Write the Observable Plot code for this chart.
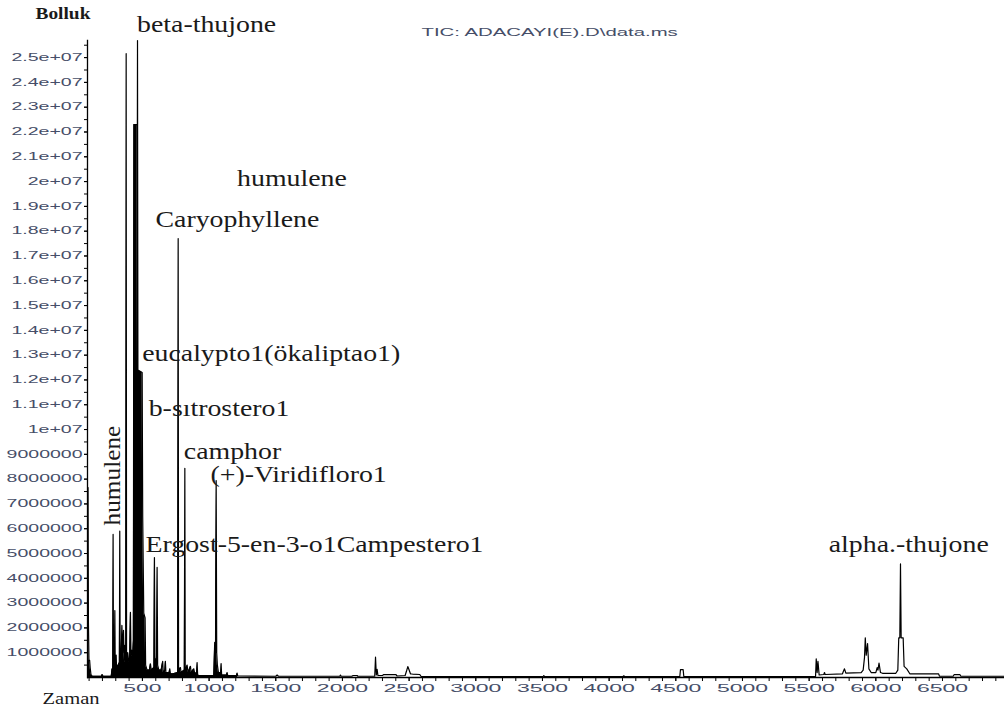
<!DOCTYPE html>
<html>
<head>
<meta charset="utf-8">
<script src="https://cdn.jsdelivr.net/npm/d3@7"></script>
<script src="https://cdn.jsdelivr.net/npm/@observablehq/plot@0.6"></script>
<style>
  html, body { margin: 0; padding: 0; background: #fff; }
  #chart svg { display: block; }
</style>
</head>
<body>
<div id="chart"></div>
<script>
// TIC trace: [scan time, abundance]
const chromatogram = [
  [88, 7.66e6], [92, 7.66e6], [95, 2.2e6], [99, 0.7e6], [104, 0.69e6], [108, 0.4e6],
  [114, 0.12e6], [124, 0.05e6], [192, 0.05e6], [198, 0.12e6], [204, 0.05e6],
  [266, 0.05e6], [272, 0.35e6], [277, 0.3e6], [280, 5.77e6], [283, 0.6e6],
  [290, 0.5e6], [293, 2.7e6], [296, 0.5e6], [303, 0.9e6], [306, 0.4e6],
  [318, 0.5e6], [327, 0.6e6], [330, 5.9e6], [333, 0.7e6], [340, 0.8e6],
  [346, 2.1e6], [352, 1.0e6], [358, 1.9e6], [363, 0.7e6], [368, 1.3e6],
  [372, 0.6e6], [375, 0.7e6], [378, 25.16e6], [381, 0.7e6], [390, 1.0e6],
  [398, 0.6e6], [404, 0.8e6], [410, 2.63e6], [414, 0.9e6], [420, 1.1e6],
  [426, 0.8e6], [432, 1.5e6], [436, 22.3e6], [458, 22.3e6], [461, 12.4e6],
  [463, 25.69e6], [466, 12.4e6], [498, 12.3e6], [502, 6.5e6], [510, 2.6e6],
  [520, 2.4e6], [524, 0.5e6], [535, 0.3e6], [552, 0.3e6], [560, 0.55e6],
  [566, 0.3e6], [586, 0.4e6], [590, 4.84e6], [594, 0.6e6], [606, 0.8e6],
  [610, 4.44e6], [614, 0.5e6], [623, 0.3e6], [640, 0.3e6], [652, 0.65e6],
  [656, 0.2e6], [668, 0.3e6], [672, 0.65e6], [676, 0.2e6], [700, 0.2e6],
  [705, 0.35e6], [710, 0.15e6], [730, 0.15e6], [764, 0.2e6], [768, 17.7e6],
  [771, 0.3e6], [785, 0.4e6], [790, 0.2e6], [814, 0.3e6], [818, 8.44e6],
  [821, 0.3e6], [835, 0.5e6], [842, 0.2e6], [860, 0.45e6], [866, 0.2e6],
  [885, 0.35e6], [893, 0.15e6], [906, 0.2e6], [910, 0.6e6], [914, 0.1e6],
  [925, 0.08e6], [1035, 0.08e6], [1042, 1.42e6], [1048, 1.0e6], [1053, 7.94e6],
  [1057, 1.0e6], [1062, 0.5e6], [1070, 0.2e6], [1087, 0.2e6], [1090, 0.56e6],
  [1094, 0.1e6], [1130, 0.1e6], [1135, 0.2e6], [1140, 0.08e6], [1205, 0.08e6],
  [1210, 0.18e6], [1215, 0.06e6], [1500, 0.05e6], [1510, 0.1e6], [1520, 0.05e6],
  [1980, 0.05e6], [1985, 0.1e6], [1990, 0.05e6], [2070, 0.05e6], [2080, 0.08e6],
  [2110, 0.08e6], [2115, 0.05e6], [2242, 0.05e6], [2248, 0.82e6], [2254, 0.1e6],
  [2260, 0.33e6], [2266, 0.08e6], [2300, 0.08e6], [2310, 0.12e6], [2400, 0.12e6],
  [2410, 0.06e6], [2470, 0.08e6], [2480, 0.25e6], [2490, 0.44e6], [2500, 0.3e6],
  [2510, 0.15e6], [2525, 0.14e6], [2580, 0.12e6], [2590, 0.04e6], [3505, 0.04e6],
  [3510, 0.08e6], [3515, 0.04e6], [4105, 0.04e6], [4110, 0.07e6], [4115, 0.04e6],
  [4530, 0.04e6], [4535, 0.32e6], [4555, 0.32e6], [4560, 0.04e6], [5548, 0.04e6],
  [5553, 0.75e6], [5560, 0.2e6], [5566, 0.65e6], [5575, 0.1e6], [5610, 0.12e6],
  [5615, 0.2e6], [5620, 0.12e6], [5750, 0.15e6], [5757, 0.25e6], [5765, 0.35e6],
  [5775, 0.18e6], [5890, 0.2e6], [5905, 0.3e6], [5915, 0.8e6], [5921, 1.6e6],
  [5928, 0.9e6], [5938, 1.37e6], [5948, 0.35e6], [5965, 0.2e6], [6000, 0.2e6],
  [6010, 0.4e6], [6016, 0.3e6], [6024, 0.58e6], [6035, 0.2e6], [6050, 0.17e6],
  [6150, 0.17e6], [6165, 0.3e6], [6172, 1.6e6], [6180, 1.6e6], [6185, 4.58e6],
  [6190, 1.6e6], [6205, 1.6e6], [6212, 0.45e6], [6232, 0.35e6], [6255, 0.15e6],
  [6470, 0.15e6], [6478, 0.05e6], [6580, 0.05e6], [6588, 0.12e6], [6630, 0.12e6],
  [6638, 0.05e6], [6965, 0.05e6]
];

// Compound annotations: name, scan time and abundance where the label sits
const peakNames = [
  "beta-thujone", "humulene", "Caryophyllene", "eucalypto1(ökaliptao1)",
  "b-sıtrostero1", "camphor", "(+)-Viridifloro1", "Ergost-5-en-3-o1Campestero1",
  "alpha.-thujone"
];
const peakLabelTime = [460, 1210, 598, 498, 547, 810, 1010, 523, 5647];
const peakLabelLevel = [26.02e6, 19.84e6, 18.16e6, 12.78e6, 10.56e6, 8.82e6, 7.88e6, 5.05e6, 5.05e6];
// the vertical label beside the early peaks
const sideLabel = {name: "humulene", t: 335, a: 6.13e6};

// Axis ticks
const yTickValues = [1e6, 2e6, 3e6, 4e6, 5e6, 6e6, 7e6, 8e6, 9e6, 1e7, 1.1e7, 1.2e7, 1.3e7,
  1.4e7, 1.5e7, 1.6e7, 1.7e7, 1.8e7, 1.9e7, 2e7, 2.1e7, 2.2e7, 2.3e7, 2.4e7, 2.5e7];
const yTickLabels = ["1000000", "2000000", "3000000", "4000000", "5000000", "6000000",
  "7000000", "8000000", "9000000", "1e+07", "1.1e+07", "1.2e+07", "1.3e+07", "1.4e+07",
  "1.5e+07", "1.6e+07", "1.7e+07", "1.8e+07", "1.9e+07", "2e+07", "2.1e+07", "2.2e+07",
  "2.3e+07", "2.4e+07", "2.5e+07"];
const xTickValues = [500, 1000, 1500, 2000, 2500, 3000, 3500, 4000, 4500, 5000, 5500, 6000, 6500];
const xMinorTicks = d3.range(100, 7000, 100);
const yMinorTicks = d3.range(5e5, 2.56e7, 5e5);

const titleText = "TIC: ADACAYI(E).D\\data.ms";
const yTitle = "Bolluk";
const xTitle = "Zaman";

const trace = chromatogram.map(([t, a]) => ({t, a}));
const denseRegion = trace.filter(d => d.t <= 1215);
const peakLabels = peakNames.map((name, i) => ({name, t: peakLabelTime[i], a: peakLabelLevel[i]}));
const yLabelOf = new Map(yTickValues.map((v, i) => [v, yTickLabels[i]]));

const serif = "'Liberation Serif', 'Times New Roman', serif";
const sans = "'Liberation Sans', Arial, sans-serif";
const tickInk = "#464e68";
const labelInk = "#1a1a1a";

const chart = Plot.plot({
  width: 1004,
  height: 715,
  marginLeft: 87,
  marginRight: 0,
  marginTop: 40,
  marginBottom: 38,
  style: {background: "#fff", overflow: "visible"},
  x: {domain: [88, 6965], label: null},
  y: {domain: [0, 25.69e6], label: null},
  marks: [
    Plot.areaY(denseRegion, {x: "t", y: "a", fill: "#000", curve: "linear"}),
    Plot.line(trace, {x: "t", y: "a", stroke: "#000", strokeWidth: 1.2, curve: "linear"}),
    Plot.ruleY([0], {stroke: "#000", strokeWidth: 1.6}),
    Plot.frame({anchor: "left", stroke: "#000", strokeWidth: 1.3}),
    Plot.axisY(yMinorTicks, {tickSize: 3, tickFormat: () => "", label: null, stroke: "#000"}),
    Plot.axisY(yTickValues, {
      tickSize: 3, tickPadding: 2, label: null, stroke: "#000",
      tickFormat: d => yLabelOf.get(d),
      fontSize: 10, fontFamily: sans, fill: tickInk
    }),
    Plot.axisX(xMinorTicks, {tickSize: 4, tickFormat: () => "", label: null, stroke: "#000"}),
    Plot.axisX(xTickValues, {
      tickSize: 4, tickPadding: 3, label: null, stroke: "#000",
      tickFormat: d => String(d),
      fontSize: 10, fontFamily: sans, fill: tickInk
    }),
    Plot.text(peakLabels, {
      x: "t", y: "a", text: "name", textAnchor: "start", lineAnchor: "bottom",
      fontSize: 23, fontFamily: serif, fill: labelInk
    }),
    Plot.text([sideLabel], {
      x: "t", y: "a", text: "name", textAnchor: "start", lineAnchor: "bottom", rotate: -90,
      fontSize: 23, fontFamily: serif, fill: labelInk
    }),
    Plot.text([titleText], {
      frameAnchor: "top-left", text: d => d, dx: 334, dy: -5,
      textAnchor: "start", lineAnchor: "bottom",
      fontSize: 11, fontFamily: sans, fill: tickInk
    }),
    Plot.text([yTitle], {
      frameAnchor: "top-left", text: d => d, dx: -52, dy: -22,
      textAnchor: "start", lineAnchor: "bottom",
      fontSize: 16, fontWeight: "bold", fontFamily: serif, fill: labelInk
    }),
    Plot.text([xTitle], {
      frameAnchor: "bottom-left", text: d => d, dx: -45, dy: 26,
      textAnchor: "start", lineAnchor: "bottom",
      fontSize: 17, fontFamily: serif, fill: labelInk
    })
  ]
});

document.getElementById("chart").appendChild(chart);

// The lettering is set wide: stretch each text run horizontally
function stretch(node, factor) {
  const w = node.getComputedTextLength();
  if (w > 0) {
    node.setAttribute("textLength", (w * factor).toFixed(1));
    node.setAttribute("lengthAdjust", "spacingAndGlyphs");
  }
}
const serifRuns = new Set([...peakNames, sideLabel.name, yTitle, xTitle]);
chart.querySelectorAll("text").forEach(node => {
  const s = node.textContent;
  if (serifRuns.has(s)) {
    const upright = !(node.getAttribute("transform") || "").includes("rotate");
    stretch(node, upright ? 1.21 : 1.1);
  } else if (s === titleText) {
    stretch(node, 1.85);
  }
});
chart.querySelectorAll('g[aria-label="y-axis tick label"] text').forEach(n => stretch(n, 1.95));
chart.querySelectorAll('g[aria-label="x-axis tick label"] text').forEach(n => stretch(n, 2.3));
</script>
</body>
</html>
